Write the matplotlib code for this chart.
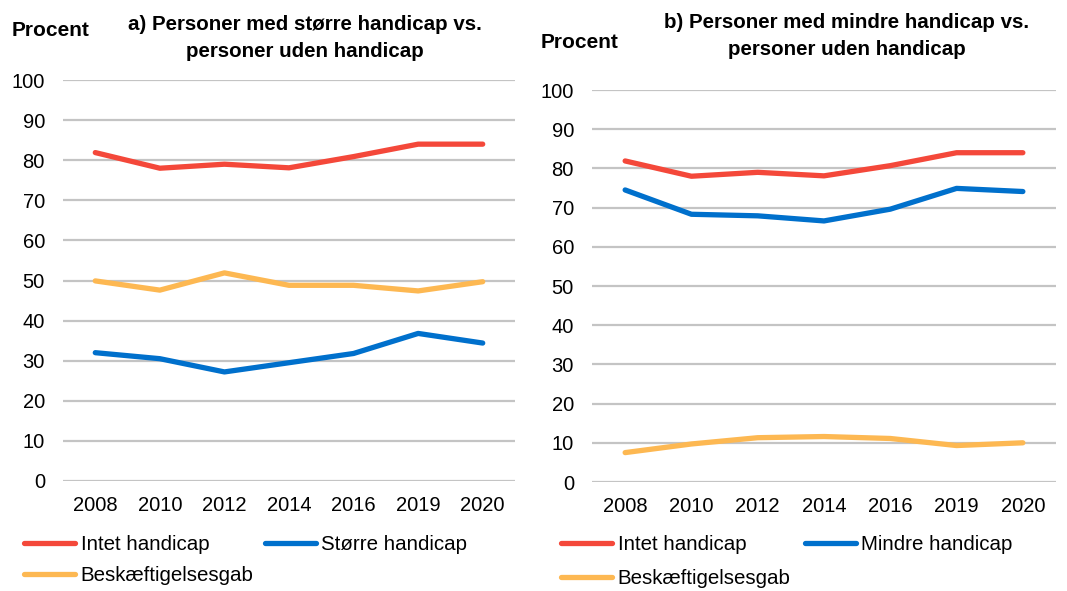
import matplotlib
matplotlib.use("Agg")
import matplotlib.pyplot as plt

years = ["2008", "2010", "2012", "2014", "2016", "2019", "2020"]

# Panel a
a_intet = [81.9, 78.0, 79.0, 78.1, 80.9, 84.0, 84.0]
a_stoerre = [32.0, 30.5, 27.2, 29.5, 31.8, 36.8, 34.4]
a_gab = [49.9, 47.6, 51.9, 48.8, 48.8, 47.4, 49.7]

# Panel b
b_intet = [81.9, 78.0, 79.0, 78.1, 80.7, 84.0, 84.0]
b_mindre = [74.5, 68.3, 67.9, 66.6, 69.6, 74.9, 74.1]
b_gab = [7.5, 9.7, 11.3, 11.6, 11.1, 9.3, 10.0]

yticks = [0, 10, 20, 30, 40, 50, 60, 70, 80, 90, 100]

RED = "#F4483A"
BLUE = "#0070CC"
YEL = "#FDB852"
GRID = "#C4C4C4"

plt.rcParams["font.family"] = ["Liberation Sans", "DejaVu Sans"]

W, H = 1067, 591
fig = plt.figure(figsize=(W / 100, H / 100), dpi=100)


def px_axes(x0, y0, x1, y1):
    return fig.add_axes([x0 / W, 1 - y1 / H, (x1 - x0) / W, (y1 - y0) / H])


def style(ax):
    ax.set_xlim(-0.5, len(years) - 0.5)
    ax.set_ylim(0, 100)
    ax.set_yticks(yticks)
    ax.set_xticks(range(len(years)))
    ax.set_xticklabels(years)
    ax.tick_params(axis="both", length=0, labelsize=14.5, colors="#000000")
    ax.tick_params(axis="y", pad=13)
    ax.tick_params(axis="x", pad=11)
    for s in ax.spines.values():
        s.set_visible(False)
    ax.grid(axis="y", color=GRID, linewidth=1.6)
    ax.set_axisbelow(True)


lw = 3.8
x = list(range(len(years)))

axA = px_axes(63, 80, 515, 481)
style(axA)
lA1, = axA.plot(x, a_intet, color=RED, lw=lw, solid_capstyle="round", label="Intet handicap")
lA2, = axA.plot(x, a_stoerre, color=BLUE, lw=lw, solid_capstyle="round", label="Større handicap")
lA3, = axA.plot(x, a_gab, color=YEL, lw=lw, solid_capstyle="round", label="Beskæftigelsesgab")

axB = px_axes(592, 90, 1056, 482)
style(axB)
lB1, = axB.plot(x, b_intet, color=RED, lw=lw, solid_capstyle="round", label="Intet handicap")
lB2, = axB.plot(x, b_mindre, color=BLUE, lw=lw, solid_capstyle="round", label="Mindre handicap")
lB3, = axB.plot(x, b_gab, color=YEL, lw=lw, solid_capstyle="round", label="Beskæftigelsesgab")

# Titles and y-labels
fig.text(305 / W, 1 - 38 / H, "a) Personer med større handicap vs.\npersoner uden handicap",
         ha="center", va="center", fontsize=14.8, fontweight="bold", linespacing=1.55)
fig.text(847 / W, 1 - 36 / H, "b) Personer med mindre handicap vs.\npersoner uden handicap",
         ha="center", va="center", fontsize=14.8, fontweight="bold", linespacing=1.55)
fig.text(12 / W, 1 - 30 / H, "Procent", ha="left", va="center", fontsize=15, fontweight="bold")
fig.text(541 / W, 1 - 42 / H, "Procent", ha="left", va="center", fontsize=15, fontweight="bold")

leg_kw = dict(ncol=2, frameon=False, fontsize=14.8, handlelength=2.5, handletextpad=0.25,
              columnspacing=0.55, labelspacing=0.6, borderpad=0, borderaxespad=0, loc="upper left")
fig.legend([lA1, lA3, lA2], ["Intet handicap", "Beskæftigelsesgab", "Større handicap"],
           bbox_to_anchor=(24 / W, 1 - 535 / H), **leg_kw)
fig.legend([lB1, lB3, lB2], ["Intet handicap", "Beskæftigelsesgab", "Mindre handicap"],
           bbox_to_anchor=(561 / W, 1 - 535 / H), **dict(leg_kw, labelspacing=0.75, columnspacing=0.7))

fig.savefig("out.png", dpi=100)
